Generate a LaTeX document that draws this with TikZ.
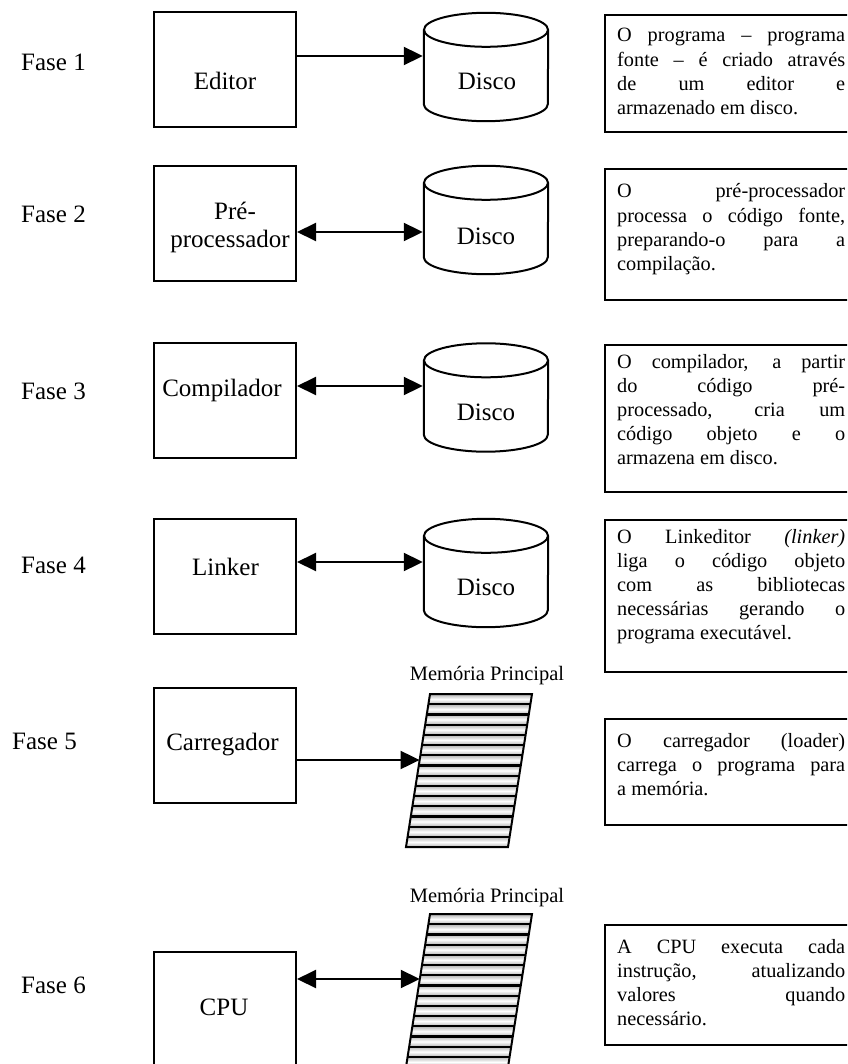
\documentclass[tikz,border=0pt]{standalone}
\usepackage{fontspec}
\setmainfont{Liberation Serif}
\usetikzlibrary{arrows.meta,calc}
\newcommand\jline[1]{\makebox[\linewidth][s]{#1}\par}
\newcommand\fline[1]{\makebox[\linewidth][l]{#1}\par}
\newcommand\drawdisk[1]{%
  \draw[line width=2pt] ($(#1.north west)+(0,17)$) -- ($(#1.south west)+(0,-17)$)
     arc[start angle=180,end angle=0,x radius=62,y radius=17] -- ($(#1.north east)+(0,17)$);
  \draw[line width=2pt] ($(#1.north)+(0,17)$) ellipse[x radius=62,y radius=17];}
\newcommand\drawmem[2]{%
  \coordinate (#1tl) at (430,#2);
  \coordinate (#1tr) at (532,#2);
  \coordinate (#1br) at (508,{#2+153});
  \coordinate (#1bl) at (406,{#2+153});
  \begin{scope}
    \clip (#1tl) -- (#1tr) -- (#1br) -- (#1bl) -- cycle;
    \foreach \k in {0,...,14}{
      \shade[top color=gray!60,bottom color=gray!60,middle color=white]
        (380,{#2+\k*10.2}) rectangle (560,{#2+(\k+1)*10.2});}
    \foreach \k in {0,...,15}{
      \draw[line width=2.2pt] (380,{#2+\k*10.2}) -- (560,{#2+\k*10.2});}
  \end{scope}
  \draw[line width=2pt] (#1tl) -- (#1tr) -- (#1br) -- (#1bl) -- cycle;}
\begin{document}
\begin{tikzpicture}[x=1pt,y=-1pt,
  stagebox/.style={draw,line width=2pt,minimum width=142pt,minimum height=115pt,inner sep=0pt},
  diskbox/.style={draw=none,minimum width=124pt,minimum height=108pt,inner sep=0pt},
  notebox/.style={draw,line width=2pt,anchor=north west,inner sep=0pt,minimum width=270pt},
  lbl/.style={font=\fontsize{25}{28}\selectfont,anchor=base,inner sep=0pt},
  fase/.style={font=\fontsize{25}{28}\selectfont,anchor=base west,inner sep=0pt},
  txt/.style={anchor=base west,inner sep=0pt},
  memlbl/.style={font=\fontsize{20.5}{24}\selectfont,anchor=base,inner sep=0pt},
  arr/.style={line width=2pt,-{Triangle[length=19pt,width=18pt]}},
  darr/.style={line width=2pt,{Triangle[length=19pt,width=18pt]}-{Triangle[length=19pt,width=18pt]}}
]
\useasboundingbox (0,0) rectangle (847,1064);
\fill[white] (0,0) rectangle (847,1064);
\clip (0,0) rectangle (847,1064);

% Fase labels
\node[fase] (f1) at (21,71) {Fase 1};
\node[fase] (f2) at (21,223) {Fase 2};
\node[fase] (f3) at (21,399) {Fase 3};
\node[fase] (f4) at (21,573) {Fase 4};
\node[fase] (f5) at (12,749) {Fase 5};
\node[fase] (f6) at (21,993) {Fase 6};

% stage boxes
\node[stagebox] (ed) at (225,70) {};
\node[stagebox] (pp) at (225,224) {};
\node[stagebox] (cp) at (225,400.5) {};
\node[stagebox] (lk) at (225,576) {};
\node[stagebox] (cr) at (225,745) {};
\node[stagebox] (cpu) at (225,1009) {};
\node[lbl] (edl) at (225,90) {Editor};
\node[lbl] (ppl1) at (235,220) {Pré-};
\node[lbl] (ppl2) at (230,248) {processador};
\node[lbl] (cpl) at (222,396) {Compilador};
\node[lbl] (lkl) at (225.5,575) {Linker};
\node[lbl] (crl) at (222.5,750) {Carregador};
\node[lbl] (cpul) at (224,1015) {CPU};

% disks
\node[diskbox] (d1) at (486,67) {};
\node[diskbox] (d2) at (486,220) {};
\node[diskbox] (d3) at (486,397.5) {};
\node[diskbox] (d4) at (486,573) {};
\drawdisk{d1}\drawdisk{d2}\drawdisk{d3}\drawdisk{d4}
\node[lbl] (d1l) at (487,90) {Disco};
\node[lbl] (d2l) at (486,245) {Disco};
\node[lbl] (d3l) at (486,420) {Disco};
\node[lbl] (d4l) at (486,595) {Disco};

% memories
\node[memlbl] (m1l) at (487,680) {Memória Principal};
\node[memlbl] (m2l) at (487,902) {Memória Principal};
\drawmem{ma}{694}
\drawmem{mb}{914}
\coordinate (m1in) at (419.6,760);
\coordinate (m2in) at (419.8,979);

% connectors
\coordinate (y1) at (0,56);
\coordinate (y2) at (0,232);
\coordinate (y3) at (0,386);
\coordinate (y4) at (0,562);
\draw[arr] (ed.east |- y1) -- ([xshift=-1pt]d1.west |- y1);
\draw[darr] (pp.east |- y2) -- ([xshift=-1pt]d2.west |- y2);
\draw[darr] (cp.east |- y3) -- ([xshift=-1pt]d3.west |- y3);
\draw[darr] (lk.east |- y4) -- ([xshift=-1pt]d4.west |- y4);
\draw[arr] (cr.east |- m1in) -- (m1in);
\draw[darr] (cpu.east |- m2in) -- (m2in);

% note boxes
\node[notebox,minimum height=117pt] (n1) at (604,14) {};
\node[notebox,minimum height=131pt] (n2) at (604,168) {};
\node[notebox,minimum height=147pt] (n3) at (604,344) {};
\node[notebox,minimum height=152pt] (n4) at (604,519) {};
\node[notebox,minimum height=106pt] (n5) at (604,718) {};
\node[notebox,minimum height=120pt] (n6) at (604,924) {};

\node[txt] (t1) at (617,42) {\parbox[t]{228pt}{\fontsize{20.3}{24.2}\selectfont
  \jline{O programa – programa}\jline{fonte – é criado através}\jline{de um editor e}\fline{armazenado em disco.}}};
\node[txt] (t2) at (617,198) {\parbox[t]{228pt}{\fontsize{20.3}{24.2}\selectfont
  \jline{O pré-processador}\jline{processa o código fonte,}\jline{preparando-o para a}\fline{compilação.}}};
\node[txt] (t3) at (617,368) {\parbox[t]{228pt}{\fontsize{20.3}{24.2}\selectfont
  \jline{O compilador, a partir}\jline{do código pré-}\jline{processado, cria um}\jline{código objeto e o}\fline{armazena em disco.}}};
\node[txt] (t4) at (617,543) {\parbox[t]{228pt}{\fontsize{20.3}{24.2}\selectfont
  \jline{O Linkeditor \textit{(linker)}}\jline{liga o código objeto}\jline{com as bibliotecas}\jline{necessárias gerando o}\fline{programa executável.}}};
\node[txt] (t5) at (617,747) {\parbox[t]{228pt}{\fontsize{20.3}{24.2}\selectfont
  \jline{O carregador (loader)}\jline{carrega o programa para}\fline{a memória.}}};
\node[txt] (t6) at (617,953) {\parbox[t]{228pt}{\fontsize{20.3}{24.2}\selectfont
  \jline{A CPU executa cada}\jline{instrução, atualizando}\jline{valores quando}\fline{necessário.}}};
\end{tikzpicture}
\end{document}
